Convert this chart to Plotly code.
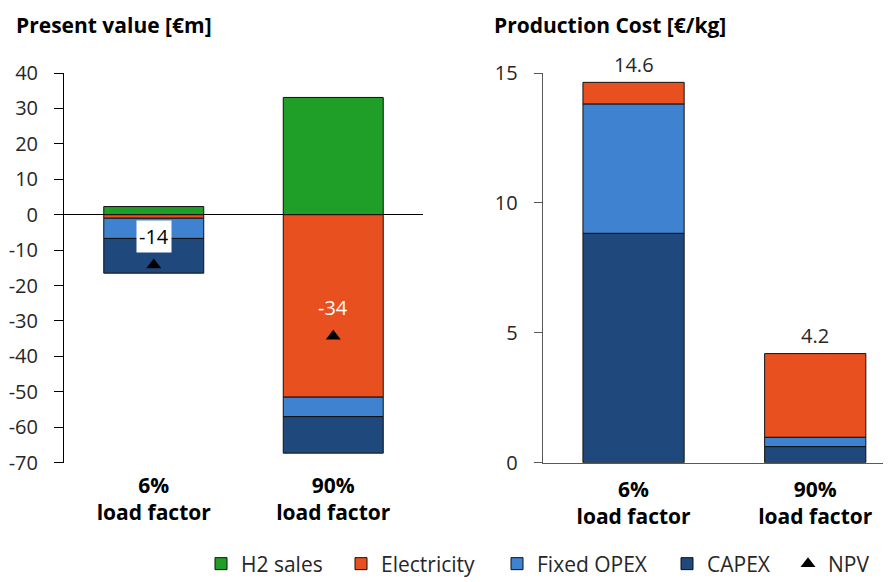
import plotly.graph_objects as go

categories = ["6%<br>load factor", "90%<br>load factor"]

# Present value [€m]
pv_h2_sales = [2.3, 33.1]
pv_electricity = [-1.0, -51.5]
pv_fixed_opex = [-5.7, -5.5]
pv_capex = [-9.8, -10.3]
pv_npv = [-14.2, -34.3]
pv_ticks = [40, 30, 20, 10, 0, -10, -20, -30, -40, -50, -60, -70]

# Production cost [€/kg]
pc_capex = [8.83, 0.62]
pc_fixed_opex = [4.98, 0.36]
pc_electricity = [0.83, 3.22]
pc_total = [14.6, 4.2]
pc_ticks = [0, 5, 10, 15]

C_GREEN = "#1f9e28"
C_ORANGE = "#e8501f"
C_LBLUE = "#3f82cf"
C_DBLUE = "#1f497c"
FONT = "Open Sans"
TXT = "#262626"

# page body has an 8px margin; figure coordinates = page coordinates - 8
W, H = 883, 574
OFF = 8


def px_x(page_x):
    return (page_x - OFF) / W


def px_y(page_y):
    return 1 - (page_y - OFF) / H


fig = go.Figure()
line = dict(color="#111111", width=1)
bw = 0.557

left_specs = [("H2 sales", pv_h2_sales, C_GREEN, "legend"),
              ("Electricity", pv_electricity, C_ORANGE, "legend2"),
              ("Fixed OPEX", pv_fixed_opex, C_LBLUE, "legend3"),
              ("CAPEX", pv_capex, C_DBLUE, "legend4")]
for name, vals, col, lg in left_specs:
    fig.add_trace(go.Bar(x=categories, y=vals, name=name, marker=dict(color=col, line=line),
                         width=bw, xaxis="x", yaxis="y", showlegend=True, legend=lg))

fig.add_trace(go.Scatter(x=categories, y=pv_npv, mode="markers", name="NPV",
                         marker=dict(symbol="triangle-up", size=13, color="black"),
                         xaxis="x", yaxis="y", legend="legend5"))

for name, vals, col in [("CAPEX", pc_capex, C_DBLUE),
                        ("Fixed OPEX", pc_fixed_opex, C_LBLUE),
                        ("Electricity", pc_electricity, C_ORANGE)]:
    fig.add_trace(go.Bar(x=categories, y=vals, name=name, marker=dict(color=col, line=line),
                         width=bw, xaxis="x2", yaxis="y2", showlegend=False))

annotations = []
# NPV labels
annotations.append(dict(x=categories[0], y=pv_npv[0], xref="x", yref="y", text=f"{pv_npv[0]:.0f}",
                        showarrow=False, yshift=29, bgcolor="white", borderpad=2,
                        font=dict(family=FONT, size=20, color="black")))
annotations.append(dict(x=categories[1], y=pv_npv[1], xref="x", yref="y", text=f"{pv_npv[1]:.0f}",
                        showarrow=False, yshift=29,
                        font=dict(family=FONT, size=20, color="white")))
# totals
for c, t in zip(categories, pc_total):
    annotations.append(dict(x=c, y=t, xref="x2", yref="y2", text=f"{t:.1f}", showarrow=False,
                            yanchor="bottom", yshift=3,
                            font=dict(family=FONT, size=20, color=TXT)))
# titles
annotations.append(dict(x=px_x(14), y=px_y(25), xref="paper", yref="paper", xanchor="left",
                        yanchor="middle", text="<b>Present value [€m]</b>", showarrow=False,
                        font=dict(family=FONT, size=21, color="black")))
annotations.append(dict(x=px_x(492), y=px_y(25), xref="paper", yref="paper", xanchor="left",
                        yanchor="middle", text="<b>Production Cost [€/kg]</b>", showarrow=False,
                        font=dict(family=FONT, size=21, color="black")))

ydom = [px_y(462.7), px_y(73)]
tickfont = dict(family=FONT, size=20, color=TXT)
xtickfont = dict(family=FONT, size=21, color="black", weight="bold")

legend_text_x = [241, 381, 537, 707, 828]
leg_y = px_y(564)
legends = {}
for i, tx in enumerate(legend_text_x):
    key = "legend" if i == 0 else f"legend{i + 1}"
    legends[key] = dict(orientation="h", x=px_x(tx - 40), xanchor="left", y=leg_y,
                        yanchor="middle", font=dict(family=FONT, size=21, color=TXT),
                        bgcolor="rgba(0,0,0,0)", borderwidth=0)

fig.update_layout(
    width=W, height=H,
    margin=dict(l=0, r=0, t=0, b=0, autoexpand=False),
    paper_bgcolor="white", plot_bgcolor="white",
    barmode="relative",
    font=dict(family=FONT, size=20, color=TXT),
    xaxis=dict(domain=[px_x(64), px_x(423)], range=[-0.5, 1.5], showline=False, ticks="",
               showgrid=False, zeroline=False, tickfont=xtickfont, anchor="y",
               ticklabelstandoff=8, automargin=False),
    yaxis=dict(domain=ydom, range=[-70, 40], tickmode="array", tickvals=pv_ticks,
               ticktext=[str(v) for v in pv_ticks], showline=True, linecolor="black",
               linewidth=1, ticks="outside", ticklen=9, tickcolor="black", showgrid=False,
               zeroline=True, zerolinecolor="black", zerolinewidth=1, tickfont=tickfont,
               anchor="x", ticklabelstandoff=12, automargin=False),
    xaxis2=dict(domain=[px_x(542.7), 1.0], range=[-0.5, 1.417], showline=True,
                linecolor="#595959", linewidth=1, ticks="", showgrid=False, zeroline=False,
                tickfont=xtickfont, anchor="y2", ticklabelstandoff=8, automargin=False),
    yaxis2=dict(domain=ydom, range=[0, 15], tickmode="array", tickvals=pc_ticks,
                ticktext=[str(v) for v in pc_ticks], showline=True, linecolor="#595959",
                linewidth=1, ticks="outside", ticklen=8, tickcolor="#595959", showgrid=False,
                zeroline=False, tickfont=tickfont, anchor="x2", ticklabelstandoff=12,
                automargin=False),
    annotations=annotations,
    showlegend=True,
    **legends,
)

fig.write_html("out.html")
